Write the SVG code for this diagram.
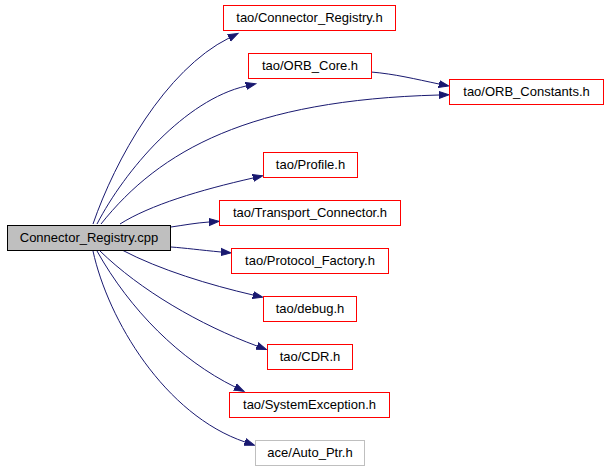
<svg xmlns="http://www.w3.org/2000/svg" width="608" height="469" viewBox="0 0 608 469">
<defs>
<style>
.n rect{fill:#ffffff;stroke:#ff0000;stroke-width:1}
.n text{font-family:"Liberation Sans",Arial,sans-serif;font-size:13px;fill:#000000;text-anchor:middle}
#n0 rect{fill:#bfbfbf;stroke:#000000}
#n11 rect{stroke:#bfbfbf}
.e path{fill:none;stroke:#191970;stroke-width:1;marker-end:url(#ah)}
</style>
<marker id="ah" markerUnits="userSpaceOnUse" markerWidth="12" markerHeight="10" refX="0" refY="4" orient="auto" viewBox="0 0 12 8">
<path d="M0,0.5 L10,4 L0,7.5 z" fill="#191970" stroke="#191970"/>
</marker>
</defs>
<rect width="608" height="469" fill="#ffffff"/>
<g class="e" id="edges">
<path d="M93,224 C115,160 165,70 229,38"/>
<path d="M97,224 C125,170 185,100 246,86"/>
<path d="M101,224 C160,150 250,100 439,95"/>
<path d="M371,72 C395,74 415,79 439,84"/>
<path d="M120,224 C150,205 200,190 253,178"/>
<path d="M171,227 C185,225 195,223 209,222"/>
<path d="M171,247 C185,248 200,250 221,252"/>
<path d="M122,250 C160,270 210,285 253,295"/>
<path d="M100,251 C140,290 200,325 257,346"/>
<path d="M97,251 C130,310 180,360 235,387"/>
<path d="M93,251 C108,320 165,415 245,442"/>
</g>
<g class="n" id="n0"><rect x="7.5" y="225.5" width="163" height="25"/><text x="89" y="242">Connector_Registry.cpp</text></g>
<g class="n" id="n1"><rect x="223.5" y="5.5" width="172" height="25"/><text x="309.5" y="22">tao/Connector_Registry.h</text></g>
<g class="n" id="n2"><rect x="248.5" y="53.5" width="123" height="25"/><text x="310" y="70">tao/ORB_Core.h</text></g>
<g class="n" id="n3"><rect x="449.5" y="79.5" width="154" height="25"/><text x="526.5" y="96">tao/ORB_Constants.h</text></g>
<g class="n" id="n4"><rect x="263.5" y="152.5" width="94" height="25"/><text x="310.5" y="169">tao/Profile.h</text></g>
<g class="n" id="n5"><rect x="219.5" y="200.5" width="181" height="25"/><text x="310" y="217">tao/Transport_Connector.h</text></g>
<g class="n" id="n6"><rect x="231.5" y="248.5" width="157" height="25"/><text x="310" y="265">tao/Protocol_Factory.h</text></g>
<g class="n" id="n7"><rect x="263.5" y="296.5" width="93" height="25"/><text x="310" y="313">tao/debug.h</text></g>
<g class="n" id="n8"><rect x="267.5" y="344.5" width="85" height="25"/><text x="310" y="361">tao/CDR.h</text></g>
<g class="n" id="n9"><rect x="229.5" y="392.5" width="160" height="25"/><text x="309.5" y="409">tao/SystemException.h</text></g>
<g class="n" id="n11"><rect x="255.5" y="440.5" width="109" height="25"/><text x="310" y="457">ace/Auto_Ptr.h</text></g>
</svg>
